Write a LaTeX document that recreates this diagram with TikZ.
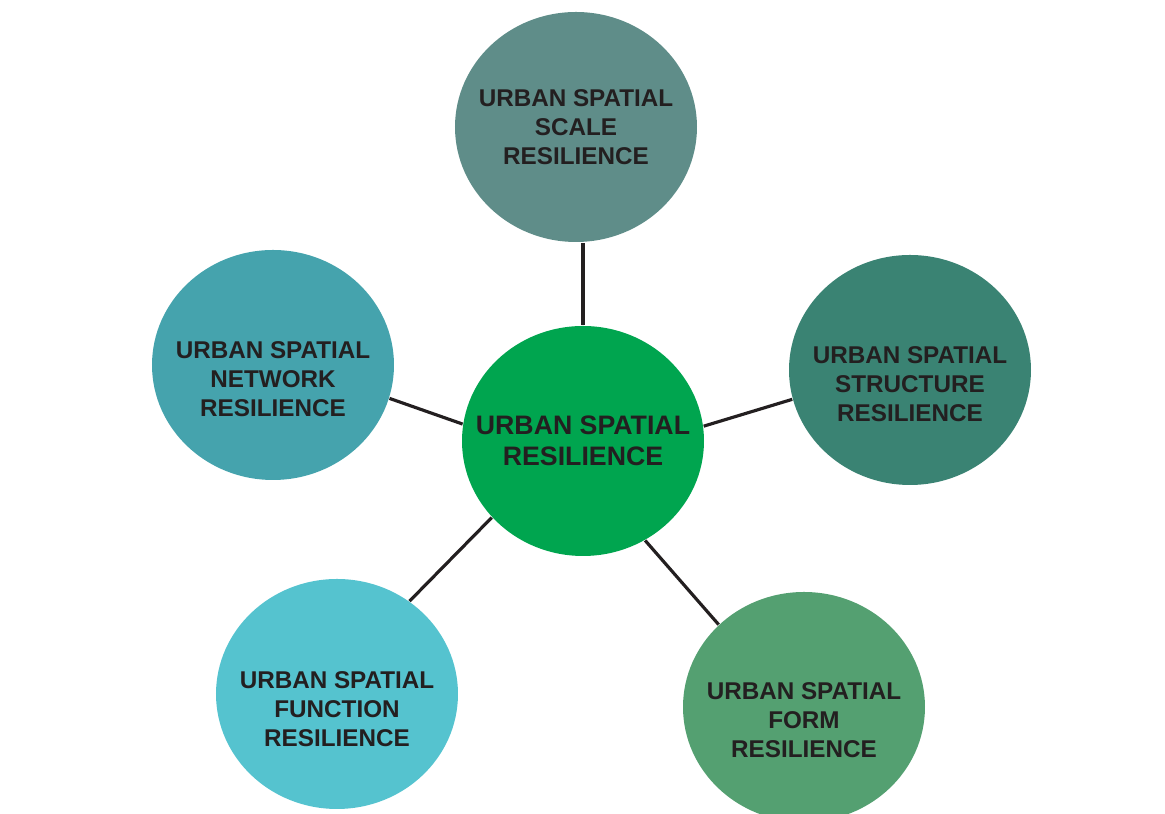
\documentclass[tikz,border=0pt]{standalone}
\usepackage{fontspec}
\setmainfont{Liberation Sans}
\usepackage{tikz}
\usetikzlibrary{shapes.geometric}

\definecolor{scalecol}{HTML}{5F8D89}
\definecolor{hubcol}{HTML}{00A54F}
\definecolor{netcol}{HTML}{45A3AD}
\definecolor{structcol}{HTML}{3A8373}
\definecolor{funccol}{HTML}{55C3CF}
\definecolor{formcol}{HTML}{54A071}
\definecolor{inkcol}{HTML}{231F20}

\tikzset{
  bubble/.style={ellipse, minimum width=2.42cm, minimum height=2.30cm, inner sep=0pt},
  bubbletext/.style={align=center, text=inkcol, inner sep=0pt, font=\bfseries\fontsize{6.9}{8.2}\selectfont},
  hubtext/.style={bubbletext, font=\bfseries\fontsize{7.6}{8.8}\selectfont},
  spoke/.style={draw=inkcol, line width=0.9pt}
}

\begin{document}
\begin{tikzpicture}[scale=1]
		\useasboundingbox (0,0) rectangle (11.65,8.14);
		\clip (0,0) rectangle (11.65,8.14);
		\node [bubble, fill=hubcol, label={[hubtext]center:URBAN SPATIAL\\RESILIENCE}] (hub) at (5.83,3.73) {};
		\node [bubble, fill=scalecol, label={[bubbletext]center:URBAN SPATIAL\\SCALE\\RESILIENCE}] (scale) at (5.76,6.87) {};
		\node [bubble, fill=netcol, label={[bubbletext, yshift=-0.14cm]center:URBAN SPATIAL\\NETWORK\\RESILIENCE}] (net) at (2.73,4.49) {};
		\node [bubble, fill=structcol, label={[bubbletext, yshift=-0.14cm]center:URBAN SPATIAL\\STRUCTURE\\RESILIENCE}] (struct) at (9.10,4.44) {};
		\node [bubble, fill=funccol, label={[bubbletext, yshift=-0.15cm]center:URBAN SPATIAL\\FUNCTION\\RESILIENCE}] (func) at (3.37,1.20) {};
		\node [bubble, fill=formcol, label={[bubbletext, yshift=-0.13cm]center:URBAN SPATIAL\\FORM\\RESILIENCE}] (form) at (8.04,1.07) {};
		%spokes from the hub
		\draw [spoke] (hub.north) -- (hub.north |- scale.south);
		\draw [spoke] (hub.172) -- (net.-16);
		\draw [spoke] (hub.7) -- (struct.194);
		\draw [spoke] (hub.220) -- (func.52);
		\draw [spoke] (hub.302) -- (form.136);
	\end{tikzpicture}
\end{document}
